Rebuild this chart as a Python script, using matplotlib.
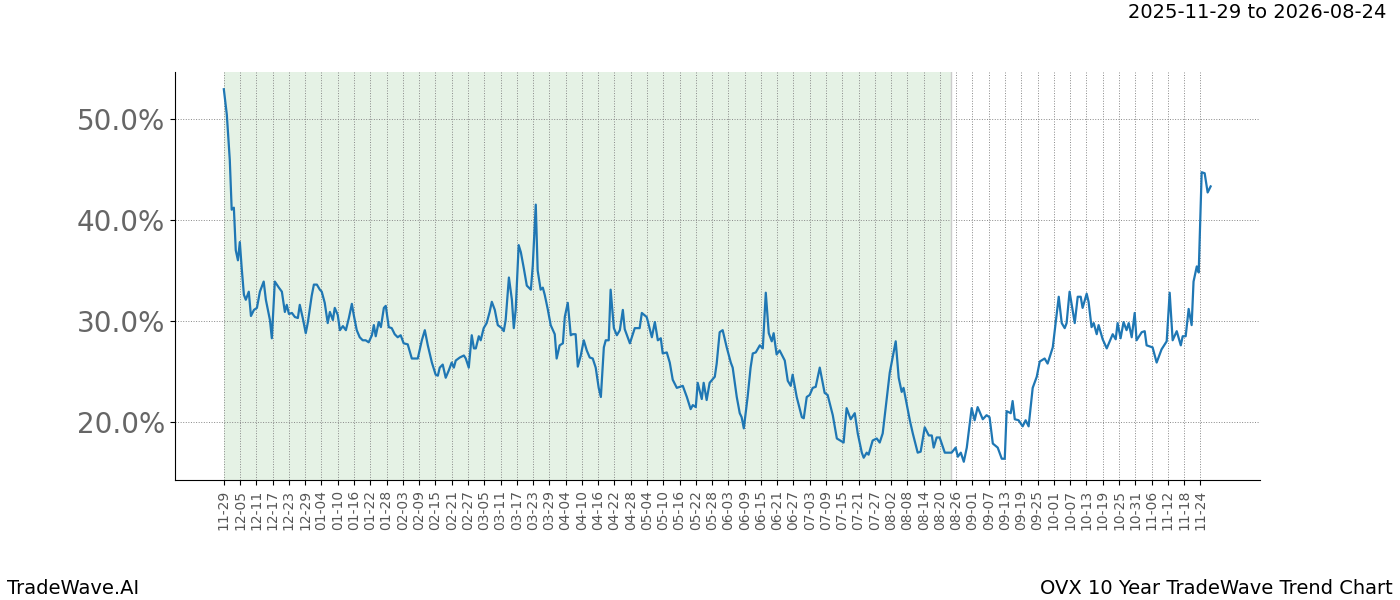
import matplotlib
matplotlib.use("Agg")
import matplotlib.pyplot as plt
import matplotlib.dates as mdates
import numpy as np
import datetime as dt

start_date = "2025-11-29"
shade_end = "2026-08-24"
day_offsets = [0,1.1,2.2,2.9,3.7,4.4,5.2,5.9,6.6,7.4,8.1,9.2,10.0,11.1,12.2,13.3,14.7,15.5,17.0,17.7,18.8,20.3,21.4,22.5,23.2,24.0,25.1,26.2,27.3,28.0,29.1,30.2,31.0,32.4,33.2,34.3,35.4,36.1,37.2,38.3,39.1,40.2,40.9,42.0,42.8,43.9,45.0,46.1,47.2,47.9,49.0,50.1,51.2,52.3,53.4,54.6,55.3,56.0,57.1,57.9,59.0,59.7,60.8,61.9,63.0,64.1,65.2,66.3,67.8,69.3,71.5,73.0,74.1,75.2,76.7,78.1,78.9,79.6,80.7,81.8,82.9,84.0,84.8,85.5,87.0,88.5,89.2,90.3,91.4,92.2,92.9,94.0,94.7,95.8,96.9,98.0,98.8,99.9,101.0,102.5,103.2,103.9,105.1,106.2,106.9,107.6,108.7,109.5,110.6,111.7,113.2,113.9,115.0,115.7,116.8,117.6,118.3,119.4,120.5,122.0,122.7,123.8,125.0,125.7,126.8,127.9,128.6,129.7,130.5,131.6,132.7,133.8,134.9,136.0,137.1,138.2,139.0,140.1,140.8,141.9,142.6,143.8,144.9,146.0,147.1,147.8,149.7,151.5,153.3,154.1,155.9,157.8,158.9,160.0,161.1,161.8,163.3,164.4,165.5,167.0,168.1,169.2,170.7,172.1,172.9,174.0,174.7,176.2,176.9,178.0,179.1,181.0,181.7,182.8,183.9,185.4,186.9,187.6,189.1,190.2,190.9,191.7,193.1,194.2,195.0,196.1,197.6,198.7,199.8,200.9,202.0,202.7,203.8,204.9,206.8,207.9,209.0,209.7,211.2,213.1,213.8,214.9,216.0,217.1,218.2,219.7,221.5,222.6,224.5,226.0,228.5,229.6,231.1,232.6,233.7,235.2,235.9,237.0,237.7,239.2,240.7,241.8,242.9,245.5,247.7,248.8,249.9,250.6,252.9,254.0,255.8,256.9,258.4,259.9,261.0,261.7,262.8,263.9,265.8,268.3,269.8,270.6,271.7,272.8,273.9,275.7,276.8,277.9,279.8,281.2,282.3,283.5,285.3,286.8,287.9,288.6,290.1,290.8,291.6,293.0,294.5,295.6,296.7,298.2,299.7,300.8,302.6,303.7,305.6,307.8,308.9,310.0,310.7,311.8,313.7,314.8,315.9,316.6,318.1,318.8,319.9,320.7,321.8,322.5,324.0,325.5,327.7,328.8,329.5,330.6,331.7,332.8,333.6,334.7,335.8,336.5,338.4,339.5,340.2,342.4,343.9,345.7,347.6,348.7,349.8,351.3,352.8,353.5,354.6,355.7,356.8,357.5,358.7,359.4,360.5,361.6,362.7,363.8]
values = [52.9,50.4,45.9,41.0,41.2,37.0,36.0,37.8,35.2,32.6,32.1,32.9,30.5,31.1,31.3,32.9,33.9,32.1,30.1,28.3,33.9,33.3,32.9,30.9,31.6,30.7,30.8,30.4,30.3,31.6,30.3,28.8,29.9,32.5,33.6,33.6,33.1,32.9,31.8,29.8,30.9,30.1,31.3,30.6,29.1,29.5,29.1,30.3,31.7,30.6,29.1,28.4,28.1,28.1,27.9,28.6,29.6,28.5,29.9,29.4,31.3,31.5,29.4,29.3,28.7,28.4,28.6,27.8,27.7,26.3,26.3,28.1,29.1,27.6,25.9,24.7,24.6,25.4,25.7,24.4,25.1,25.9,25.4,26.1,26.4,26.6,26.3,25.4,28.6,27.3,27.3,28.5,28.1,29.3,29.8,30.9,31.9,31.1,29.6,29.3,29.0,30.1,34.3,32.1,29.3,31.1,37.5,36.8,35.2,33.5,33.1,35.5,41.5,35.0,33.1,33.3,32.6,31.2,29.6,28.7,26.3,27.6,27.8,30.4,31.8,28.6,28.7,28.7,25.5,26.6,28.1,27.1,26.4,26.3,25.4,23.4,22.5,27.4,28.1,28.1,33.1,29.3,28.6,29.1,31.1,29.2,27.8,29.3,29.3,30.8,30.4,28.4,29.9,28.1,28.3,26.8,26.9,25.9,24.2,23.4,23.5,23.6,22.5,21.3,21.7,21.5,23.9,22.3,23.9,22.2,23.9,24.5,25.8,28.9,29.1,27.4,25.9,25.4,22.5,20.9,20.5,19.4,22.5,25.4,26.8,26.9,27.6,27.3,32.8,28.8,28.0,28.8,26.7,27.1,26.1,24.1,23.6,24.7,22.5,20.5,20.4,22.5,22.7,23.4,23.5,25.4,22.9,22.7,20.7,18.4,18.0,21.4,20.3,20.9,18.9,17.0,16.5,17.0,16.8,18.2,18.4,18.0,18.9,24.9,28.0,24.4,23.0,23.4,20.2,18.9,17.0,17.1,19.5,18.7,18.7,17.5,18.5,18.5,17.0,17.0,17.5,16.6,17.0,16.1,17.5,21.4,20.2,21.5,20.3,20.7,20.5,17.9,17.5,16.4,16.4,21.1,20.9,22.1,20.3,20.2,19.6,20.2,19.6,23.4,24.5,26.0,26.3,25.8,27.4,32.4,29.8,29.3,29.8,32.9,29.8,32.4,32.4,31.3,32.7,31.9,29.4,29.8,28.7,29.6,28.2,27.3,28.7,28.2,29.8,28.3,29.9,29.1,29.8,28.4,30.8,28.1,28.9,29.0,27.6,27.4,25.9,27.2,28.0,32.8,28.1,29.0,27.6,28.5,28.5,31.2,29.6,33.9,35.4,34.8,44.7,44.6,42.7,43.3]

fig = plt.figure(figsize=(14, 6), dpi=100)
ax = fig.add_axes([0.125, 0.2, 0.775, 0.68])

s = mdates.date2num(dt.datetime.strptime(start_date, "%Y-%m-%d"))
e = mdates.date2num(dt.datetime.strptime(shade_end, "%Y-%m-%d"))
x = s + np.array(day_offsets)
ax.axvspan(s, e, color="green", alpha=0.1, lw=0)
ax.axvline(e, color="#cccccc", lw=1)
ax.plot(x, values, color="#1f77b4", lw=1.6)

ticks = s + np.arange(0, 361, 6)
ax.set_xticks(ticks)
ax.set_xticklabels([mdates.num2date(t).strftime("%m-%d") for t in ticks], rotation=90, fontsize=10, color="#555555")
ax.set_yticks([20, 30, 40, 50])
ax.set_yticklabels(["20.0%", "30.0%", "40.0%", "50.0%"], fontsize=20, color="#666666")
ax.set_xlim(s - 18, s + 382)
ax.set_ylim(14.3, 54.6)
ax.grid(True, color="#888888", linestyle=":", linewidth=0.7)
ax.spines["top"].set_visible(False)
ax.spines["right"].set_visible(False)

fig.text(0.99, 0.98, "2025-11-29 to 2026-08-24", ha="right", va="center", fontsize=14)
fig.text(0.005, 0.02, "TradeWave.AI", ha="left", va="center", fontsize=14)
fig.text(0.995, 0.02, "OVX 10 Year TradeWave Trend Chart", ha="right", va="center", fontsize=14)
fig.savefig("out.png")
